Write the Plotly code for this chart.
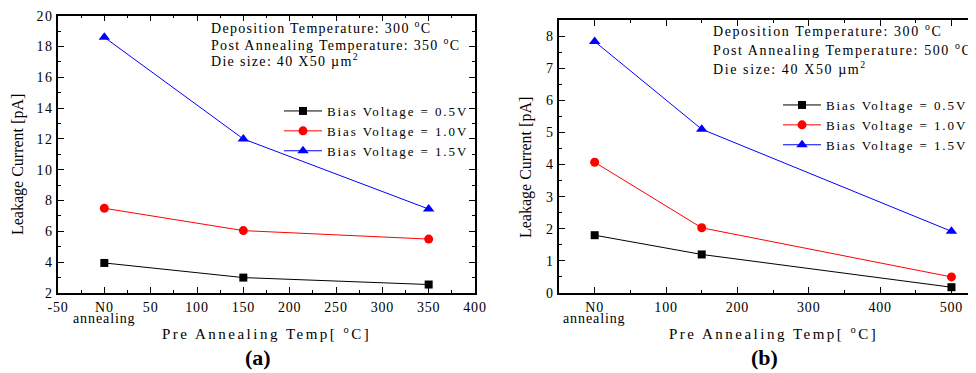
import plotly.graph_objects as go

# ---- data ----
series_names = ["Bias Voltage = 0.5V", "Bias Voltage = 1.0V", "Bias Voltage = 1.5V"]

temps_a = [0, 150, 350]
bias05_a = [3.95, 3.0, 2.55]
bias10_a = [7.5, 6.05, 5.5]
bias15_a = [18.6, 12.0, 7.45]

temps_b = [0, 150, 500]
bias05_b = [1.8, 1.2, 0.18]
bias10_b = [4.07, 2.03, 0.5]
bias15_b = [7.83, 5.1, 1.92]

xtickvals_a = [-50, 0, 50, 100, 150, 200, 250, 300, 350, 400]
xticktext_a = ["-50", "N0", "50", "100", "150", "200", "250", "300", "350", "400"]
ytickvals_a = [2, 4, 6, 8, 10, 12, 14, 16, 18, 20]
xtickvals_b = [0, 100, 200, 300, 400, 500]
xticktext_b = ["N0", "100", "200", "300", "400", "500"]
ytickvals_b = [0, 1, 2, 3, 4, 5, 6, 7, 8]
no_anneal_sub = "annealing"

notes_a = ["Deposition Temperature: 300 <sup>o</sup>C",
           "Post Annealing Temperature: 350 <sup>o</sup>C",
           "Die size: 40 X50 \u00b5m<sup>2</sup>"]
notes_b = ["Deposition Temperature: 300 <sup>o</sup>C",
           "Post Annealing Temperature: 500 <sup>o</sup>C",
           "Die size: 40 X50 \u00b5m<sup>2</sup>"]
ytitle = "Leakage Current [pA]"
xtitle = "Pre Annealing Temp[ <sup>o</sup>C]"

colors = ["black", "red", "blue"]
symbols = ["square", "circle", "triangle-up"]
msizes = [8, 9, 10]

W, H = 976, 373
OFF = 8  # page body margin
FONT = "Liberation Serif"


def px(x):
    return (x - OFF) / W


def py(y):
    return 1 - (y - OFF) / H


def sp(text, ls):
    # letter spacing styling (text content unchanged)
    return '<span style="letter-spacing:%spx">%s</span>' % (ls, text)


fig = go.Figure()

for vals, name, c, s, ms in zip([bias05_a, bias10_a, bias15_a], series_names, colors, symbols, msizes):
    fig.add_trace(go.Scatter(x=temps_a, y=vals, mode="lines+markers", name=sp(name, 1.9),
                             line=dict(color=c, width=1), marker=dict(color=c, symbol=s, size=ms),
                             xaxis="x", yaxis="y", legend="legend"))
for vals, name, c, s, ms in zip([bias05_b, bias10_b, bias15_b], series_names, colors, symbols, msizes):
    fig.add_trace(go.Scatter(x=temps_b, y=vals, mode="lines+markers", name=sp(name, 1.9),
                             line=dict(color=c, width=1), marker=dict(color=c, symbol=s, size=ms),
                             xaxis="x2", yaxis="y2", legend="legend2"))

axis_common = dict(showline=True, linecolor="black", linewidth=1.5, mirror="allticks",
                   ticks="inside", ticklen=6, tickcolor="black", tickwidth=1,
                   showgrid=False, zeroline=False, automargin=False,
                   tickfont=dict(family=FONT, size=14, color="black"))

fig.update_layout(
    width=W, height=H,
    margin=dict(l=0, r=0, t=0, b=0, autoexpand=False),
    paper_bgcolor="white", plot_bgcolor="white",
    font=dict(family=FONT, color="black"),
    xaxis=dict(domain=[px(58), px(475)], range=[-50, 400], anchor="y",
               tickmode="array", tickvals=xtickvals_a, ticktext=[sp(t, 0.8) for t in xticktext_a],
               minor=dict(tickmode="linear", tick0=-50, dtick=25, ticks="inside", ticklen=3, tickcolor="black"),
               **axis_common),
    yaxis=dict(domain=[py(293), py(15.7)], range=[2, 20], anchor="x",
               tickmode="array", tickvals=ytickvals_a, ticktext=[sp(str(v), 1.5) for v in ytickvals_a],
               minor=dict(tickmode="linear", tick0=2, dtick=1, ticks="inside", ticklen=3, tickcolor="black"),
               **axis_common),
    xaxis2=dict(domain=[px(559), px(980)], range=[-50, 540], anchor="y2",
                tickmode="array", tickvals=xtickvals_b, ticktext=[sp(t, 0.8) for t in xticktext_b],
                minor=dict(tickmode="linear", tick0=0, dtick=50, ticks="inside", ticklen=3, tickcolor="black"),
                **axis_common),
    yaxis2=dict(domain=[py(293), py(20)], range=[0, 8.5], anchor="x2",
                tickmode="array", tickvals=ytickvals_b, ticktext=[sp(str(v), 1.5) for v in ytickvals_b],
                minor=dict(tickmode="linear", tick0=0, dtick=0.5, ticks="inside", ticklen=3, tickcolor="black"),
                **axis_common),
    legend=dict(x=px(279), y=py(96), xanchor="left", yanchor="top", bgcolor="rgba(0,0,0,0)",
                font=dict(family=FONT, size=13, color="black"), tracegroupgap=0, itemwidth=38),
    legend2=dict(x=px(778), y=py(90), xanchor="left", yanchor="top", bgcolor="rgba(0,0,0,0)",
                 font=dict(family=FONT, size=13, color="black"), tracegroupgap=0, itemwidth=38),
)

ann = []
for i, t in enumerate(notes_a):
    ann.append(dict(text=sp(t, 1.3), x=px(209), y=py(27 + i * 16.7), xref="paper", yref="paper",
                    xanchor="left", yanchor="middle", showarrow=False,
                    font=dict(family=FONT, size=14, color="black")))
for i, t in enumerate(notes_b):
    ann.append(dict(text=sp(t, 1.6), x=px(711), y=py(30 + i * 19), xref="paper", yref="paper",
                    xanchor="left", yanchor="middle", showarrow=False,
                    font=dict(family=FONT, size=14, color="black")))

# "annealing" second line under the N0 tick
for xr in ["x", "x2"]:
    ann.append(dict(text=sp(no_anneal_sub, 0.9), x=0, xref=xr, y=py(318), yref="paper",
                    xanchor="center", yanchor="middle", showarrow=False,
                    font=dict(family=FONT, size=14, color="black")))

# axis titles
for xp, yp in [(18, 165), (526, 168)]:
    ann.append(dict(text=ytitle, x=px(xp), y=py(yp), xref="paper", yref="paper",
                    textangle=-90, showarrow=False, xanchor="center", yanchor="middle",
                    font=dict(family=FONT, size=16, color="black")))
for xp, yp in [(266, 333), (773, 333)]:
    ann.append(dict(text=sp(xtitle, 2.5), x=px(xp), y=py(yp), xref="paper", yref="paper",
                    showarrow=False, xanchor="center", yanchor="middle",
                    font=dict(family=FONT, size=15, color="black")))
# panel labels
ann.append(dict(text="<b>(a)</b>", x=px(258), y=py(357), xref="paper", yref="paper",
                showarrow=False, xanchor="center", yanchor="middle",
                font=dict(family=FONT, size=22, color="black")))
ann.append(dict(text="<b>(b)</b>", x=px(764), y=py(357), xref="paper", yref="paper",
                showarrow=False, xanchor="center", yanchor="middle",
                font=dict(family=FONT, size=22, color="black")))

fig.update_layout(annotations=ann)
fig.write_html("out.html")
